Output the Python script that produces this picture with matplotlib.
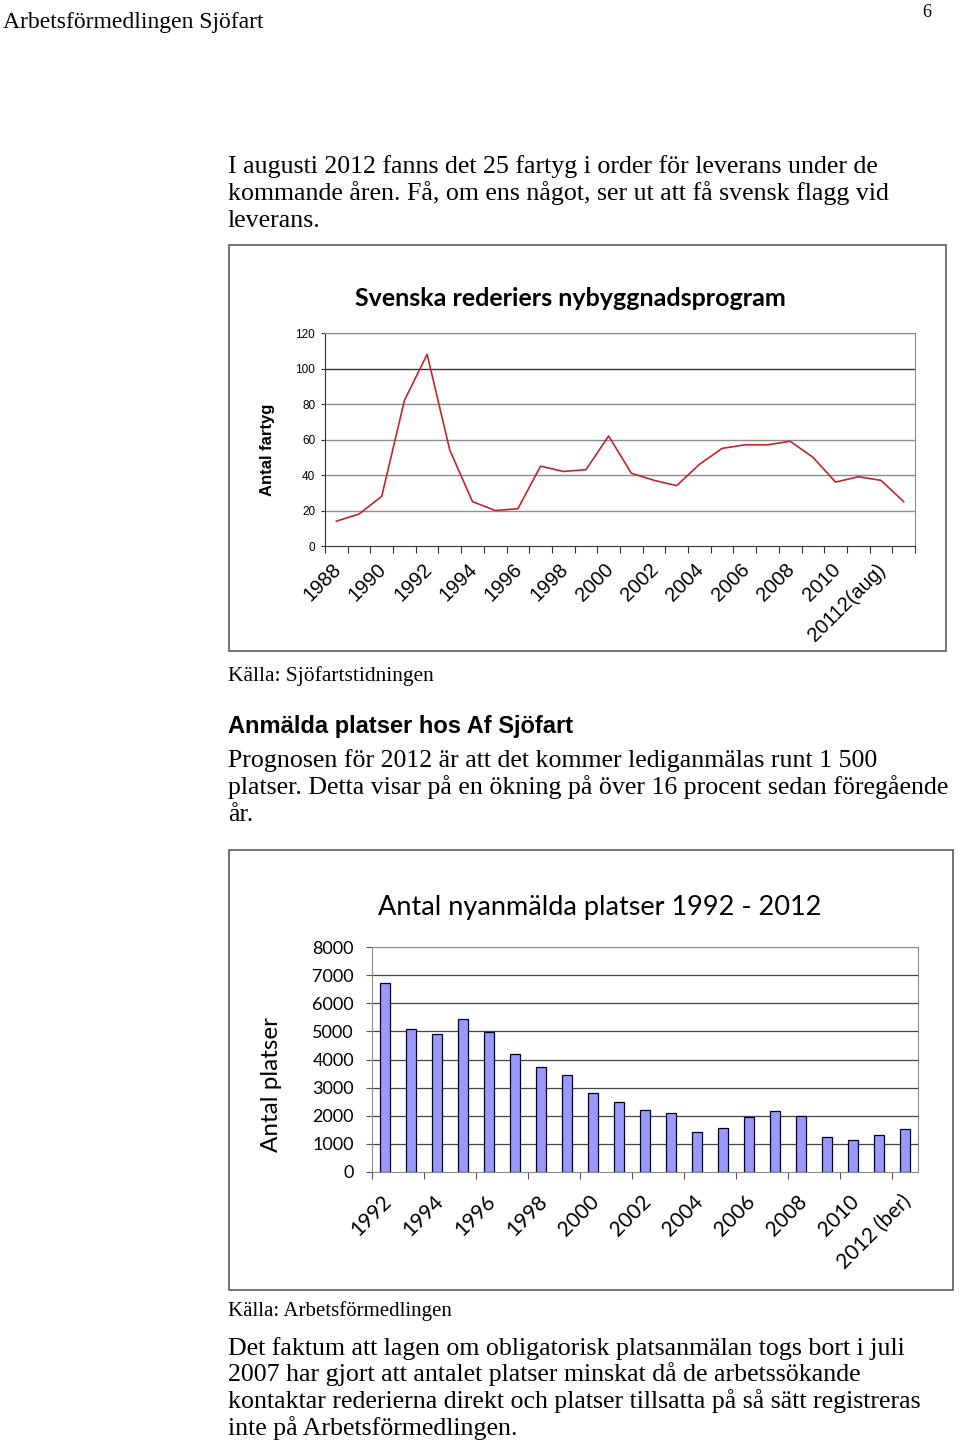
import matplotlib
matplotlib.use("Agg")
import matplotlib.pyplot as plt
import matplotlib.transforms as mtransforms
from matplotlib.patches import Rectangle
import numpy as np

W, H = 960, 1442

# chart 1: Svenska rederiers nybyggnadsprogram
fartyg_cats = [str(y) for y in range(1988, 2012)] + ["20112(aug)", "2012(aug)"]
fartyg = [14, 18, 28, 82, 108, 54, 25, 20, 21, 45, 42, 43, 62,
          41, 37, 34, 46, 55, 57, 57, 59, 50, 36, 39, 37, 25]

# chart 2: Antal nyanmälda platser 1992 - 2012
platser_cats = [str(y) for y in range(1992, 2012)] + ["2012 (ber)"]
platser = [6720, 5100, 4900, 5450, 4980, 4200, 3720, 3450, 2820, 2500, 2200,
           2100, 1430, 1560, 1940, 2180, 2000, 1240, 1140, 1320, 1530]

serif = "Liberation Serif"
arial = "Liberation Sans"
calibri = "Lato"


def fx(x):
    return x / W


def fy(y):
    return 1 - y / H


def ax_rect(l, t, r, b):
    return [fx(l), fy(b), (r - l) / W, (b - t) / H]


def shift_labels(labels, dx_px):
    off = mtransforms.ScaledTranslation(dx_px / 100, 0, fig.dpi_scale_trans)
    for lab in labels:
        lab.set_transform(lab.get_transform() + off)


fig = plt.figure(figsize=(9.6, 14.42), dpi=100)

# page text
fig.text(fx(3), fy(28), "Arbetsförmedlingen Sjöfart", family=serif, fontsize=17, va="baseline")
fig.text(fx(922), fy(17), "6", family=serif, fontsize=13, va="baseline")

body = 18.6
para1 = ["I augusti 2012 fanns det 25 fartyg i order för leverans under de",
         "kommande åren. Få, om ens något, ser ut att få svensk flagg vid",
         "leverans."]
for i, line in enumerate(para1):
    fig.text(fx(228), fy(173 + 27 * i), line, family=serif, fontsize=body, va="baseline")

fig.text(fx(228), fy(681), "Källa: Sjöfartstidningen", family=serif, fontsize=15.5, va="baseline")
fig.text(fx(228), fy(733), "Anmälda platser hos Af Sjöfart", family=arial, fontsize=17,
         weight="bold", va="baseline")
para2 = ["Prognosen för 2012 är att det kommer lediganmälas runt 1 500",
         "platser. Detta visar på en ökning på över 16 procent sedan föregående",
         "år."]
for i, line in enumerate(para2):
    fig.text(fx(228), fy(767 + 27 * i), line, family=serif, fontsize=body, va="baseline")

fig.text(fx(228), fy(1316), "Källa: Arbetsförmedlingen", family=serif, fontsize=15, va="baseline")
para3 = ["Det faktum att lagen om obligatorisk platsanmälan togs bort i juli",
         "2007 har gjort att antalet platser minskat då de arbetssökande",
         "kontaktar rederierna direkt och platser tillsatta på så sätt registreras",
         "inte på Arbetsförmedlingen."]
for i, line in enumerate(para3):
    fig.text(fx(228), fy(1355 + 26.5 * i), line, family=serif, fontsize=body, va="baseline")

# chart frames
for (l, t, r, b) in [(229, 245, 946, 651), (229, 850, 953, 1290)]:
    fig.patches.append(Rectangle((fx(l), fy(b)), (r - l) / W, (b - t) / H,
                                 transform=fig.transFigure, fill=False,
                                 edgecolor="#5a5a5a", linewidth=1.2))

# ---- chart 1 ----
ax1 = fig.add_axes(ax_rect(325, 333, 915, 546))
x1 = np.arange(len(fartyg))
ax1.plot(x1, fartyg, color="#c0262c", linewidth=1.2)
ax1.set_xlim(-0.5, len(fartyg) - 0.5)
ax1.set_ylim(0, 120)
ax1.set_yticks(np.arange(0, 121, 20))
ax1.tick_params(axis="y", labelsize=8.5, length=3, width=0.8, color="#333333", pad=4)
for lab in ax1.get_yticklabels():
    lab.set_family(arial)
for v in range(20, 121, 20):
    ax1.axhline(v, color="#333333" if v == 100 else "#8c8c8c", linewidth=1.0, zorder=0)
ax1.set_xticks(np.arange(-0.5, len(fartyg), 1))
ax1.set_xticklabels([])
ax1.tick_params(axis="x", which="major", length=5, width=0.8, color="#333333")
ax1.set_xticks(x1[::2], minor=True)
ax1.set_xticklabels(fartyg_cats[::2], minor=True, rotation=45, ha="right",
                    rotation_mode="anchor", family=arial, fontsize=14.5)
ax1.tick_params(axis="x", which="minor", length=0, pad=10)
shift_labels(ax1.get_xticklabels(minor=True), -5)
for s in ["top", "right"]:
    ax1.spines[s].set_color("#8c8c8c")
ax1.spines["left"].set_color("#333333")
ax1.spines["bottom"].set_color("#333333")
ax1.set_ylabel("Antal fartyg", family=arial, fontsize=12, weight="bold")
ax1.yaxis.set_label_coords(-0.085, 0.45)
fig.text(fx(570), fy(306), "Svenska rederiers nybyggnadsprogram", family=calibri,
         weight="bold", fontsize=18, ha="center", va="baseline")

# ---- chart 2 ----
ax2 = fig.add_axes(ax_rect(372, 947, 918, 1172))
x2 = np.arange(len(platser))
ax2.bar(x2, platser, width=0.42, color="#9999ff", edgecolor="#000022", linewidth=0.9, zorder=3)
ax2.set_xlim(-0.5, len(platser) - 0.5)
ax2.set_ylim(0, 8000)
ax2.set_yticks(np.arange(0, 8001, 1000))
ax2.tick_params(axis="y", labelsize=13, length=4, width=0.8, color="#555555", pad=9)
for lab in ax2.get_yticklabels():
    lab.set_family(calibri)
for v in range(1000, 8001, 1000):
    ax2.axhline(v, color="#444444" if v < 8000 else "#8c8c8c", linewidth=0.9, zorder=0)
ax2.set_xticks(np.arange(-0.5, len(platser), 2))
ax2.set_xticklabels([])
ax2.tick_params(axis="x", which="major", length=5, width=0.8, color="#555555")
ax2.set_xticks(x2[::2], minor=True)
ax2.set_xticklabels(platser_cats[::2], minor=True, rotation=45, ha="right",
                    rotation_mode="anchor", family=calibri, fontsize=15)
ax2.tick_params(axis="x", which="minor", length=0, pad=14)
shift_labels(ax2.get_xticklabels(minor=True), -4)
for s in ["top", "right", "left", "bottom"]:
    ax2.spines[s].set_color("#8c8c8c")
ax2.set_ylabel("Antal platser", family=calibri, fontsize=17.5)
ax2.yaxis.set_label_coords(-0.165, 0.39)
fig.text(fx(600), fy(915), "Antal nyanmälda platser 1992 - 2012", family=calibri,
         fontsize=19.5, ha="center", va="baseline")

fig.savefig("out.png", dpi=100)
